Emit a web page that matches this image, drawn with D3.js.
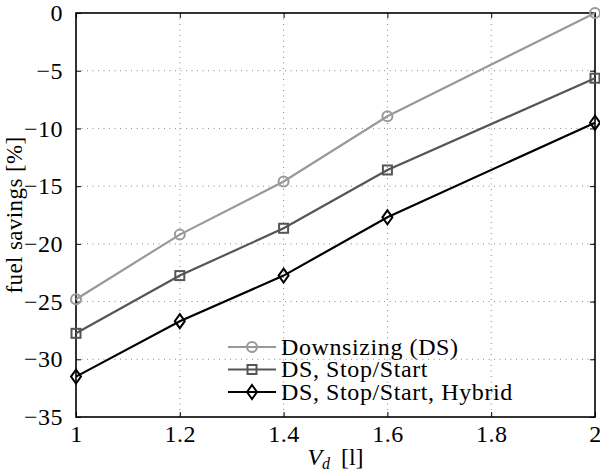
<!DOCTYPE html>
<html>
<head>
<meta charset="utf-8">
<script src="https://cdn.jsdelivr.net/npm/d3@7"></script>
<style>
  html, body { margin: 0; padding: 0; background: #fff; }
  svg { display: block; }
  text { font-family: "Liberation Serif", "Times New Roman", serif; fill: #000; }
</style>
</head>
<body>
<script>
const xValues = [1, 1.2, 1.4, 1.6, 2];
const downsizing = [-24.8, -19.2, -14.6, -8.95, 0];
const stopStart = [-27.75, -22.75, -18.65, -13.6, -5.65];
const hybrid = [-31.5, -26.7, -22.75, -17.7, -9.5];
const seriesNames = ["Downsizing (DS)", "DS, Stop/Start", "DS, Stop/Start, Hybrid"];
const xTicks = [1, 1.2, 1.4, 1.6, 1.8, 2];
const yTicks = [0, -5, -10, -15, -20, -25, -30, -35];

const W = 600, H = 475;
const m = {left: 76, right: 5, top: 13, bottom: 58};
const pw = W - m.left - m.right, ph = H - m.top - m.bottom;

const svg = d3.select("body").append("svg").attr("width", W).attr("height", H);
const g = svg.append("g").attr("transform", `translate(${m.left},${m.top})`);

const x = d3.scaleLinear().domain([1, 2]).range([0, pw]);
const y = d3.scaleLinear().domain([-35, 0]).range([ph, 0]);

const fmt = v => (v < 0 ? "\u2212" + Math.abs(v) : String(v));

// grid
const gridStyle = sel => sel.attr("stroke", "#8a8a8a").attr("stroke-width", 1)
  .attr("stroke-dasharray", "1,4.5").attr("fill", "none");
g.append("g").selectAll("line").data(xTicks.slice(1, -1)).join("line")
  .attr("x1", d => x(d)).attr("x2", d => x(d)).attr("y1", 0).attr("y2", ph).call(gridStyle);
g.append("g").selectAll("line").data(yTicks.slice(1, -1)).join("line")
  .attr("y1", d => y(d)).attr("y2", d => y(d)).attr("x1", 0).attr("x2", pw).call(gridStyle);

// axes with inward ticks
const tickLen = 5;
const axB = g.append("g").attr("transform", `translate(0,${ph})`)
  .call(d3.axisBottom(x).tickValues(xTicks).tickSize(-tickLen).tickPadding(12).tickFormat(d => d3.format("")(d)));
const axT = g.append("g").call(d3.axisTop(x).tickValues(xTicks).tickSize(-tickLen).tickFormat(""));
const axL = g.append("g").call(d3.axisLeft(y).tickValues(yTicks).tickSize(-tickLen).tickPadding(13).tickFormat(fmt));
const axR = g.append("g").attr("transform", `translate(${pw},0)`)
  .call(d3.axisRight(y).tickValues(yTicks).tickSize(-tickLen).tickFormat(""));
[axB, axT, axL, axR].forEach(a => {
  a.attr("font-family", null);
  a.select(".domain").remove();
  a.selectAll(".tick line").attr("stroke", "#000").attr("stroke-width", 1);
  a.selectAll("text").style("font-size", "24px").style("letter-spacing", "0.5px")
    .style("font-family", "'Liberation Serif', serif");
});
axB.selectAll("text").attr("dy", "0.55em");
axL.selectAll("text").attr("dy", "0.32em");

// frame
g.append("rect").attr("x", 0).attr("y", 0).attr("width", pw).attr("height", ph)
  .attr("fill", "none").attr("stroke", "#000").attr("stroke-width", 1.6);

// series
const series = [
  {name: seriesNames[0], vals: downsizing, color: "#999999", marker: "circle"},
  {name: seriesNames[1], vals: stopStart, color: "#555555", marker: "square"},
  {name: seriesNames[2], vals: hybrid, color: "#000000", marker: "diamond"}
];
const line = d3.line().x(d => x(d[0])).y(d => y(d[1]));

function drawMarker(sel, type, color) {
  if (type === "circle") {
    sel.append("circle").attr("r", 5).attr("fill", "none").attr("stroke", color).attr("stroke-width", 2);
  } else if (type === "square") {
    sel.append("rect").attr("x", -4.5).attr("y", -4.5).attr("width", 9).attr("height", 9)
      .attr("fill", "none").attr("stroke", color).attr("stroke-width", 2);
  } else {
    sel.append("path").attr("d", "M0,-7L5,0L0,7L-5,0Z").attr("fill", "none")
      .attr("stroke", color).attr("stroke-width", 2);
  }
}

series.forEach(s => {
  const pts = xValues.map((xv, i) => [xv, s.vals[i]]);
  g.append("path").datum(pts).attr("d", line).attr("fill", "none")
    .attr("stroke", s.color).attr("stroke-width", 2.2);
  pts.forEach(p => {
    const mg = g.append("g").attr("transform", `translate(${x(p[0])},${y(p[1])})`);
    drawMarker(mg, s.marker, s.color);
  });
});

// legend
const legX = 228, legY0 = 347, legDy = 22.5;
series.forEach((s, i) => {
  const ly = legY0 + i * legDy;
  svg.append("line").attr("x1", legX).attr("x2", legX + 48).attr("y1", ly).attr("y2", ly)
    .attr("stroke", s.color).attr("stroke-width", 2.2);
  const mg = svg.append("g").attr("transform", `translate(${legX + 24},${ly})`);
  drawMarker(mg, s.marker, s.color);
  svg.append("text").attr("x", legX + 53).attr("y", ly + 7.5)
    .style("font-size", "24px").style("letter-spacing", "0.6px").text(s.name);
});

// axis labels
const xl = svg.append("text").attr("x", m.left + pw / 2).attr("y", 465)
  .attr("text-anchor", "middle").style("font-size", "24px");
xl.append("tspan").style("font-style", "italic").text("V");
xl.append("tspan").style("font-style", "italic").style("font-size", "16px").attr("dy", 4).text("d");
xl.append("tspan").attr("dy", -4).text("\u2009 [l]");

svg.append("text").attr("transform", `translate(22,${m.top + ph / 2}) rotate(-90)`)
  .attr("text-anchor", "middle").style("font-size", "23px").style("letter-spacing", "0.4px")
  .text("fuel savings [%]");
</script>
</body>
</html>
